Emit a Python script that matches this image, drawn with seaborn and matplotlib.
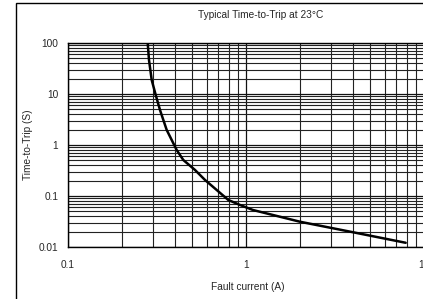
import matplotlib
matplotlib.use("Agg")
import matplotlib.pyplot as plt
import matplotlib.ticker as mticker
import seaborn as sns
import pandas as pd
from matplotlib.patches import Rectangle

current = [0.2804, 0.2851, 0.2953, 0.3110, 0.3287, 0.3585, 0.3825, 0.4079, 0.4444,
           0.5171, 0.5886, 0.6844, 0.7955, 0.9253, 1.095, 2.01, 3.84, 7.89]
trip_time = [100, 46.4, 18.8, 9.56, 4.86, 1.97, 1.253, 0.798, 0.508,
             0.3236, 0.206, 0.1312, 0.0835, 0.0667, 0.0531, 0.0313, 0.020, 0.0121]
x_ticks = [0.1, 1, 10]
x_tick_labels = ["0.1", "1", "10"]
y_ticks = [0.01, 0.1, 1, 10, 100]
y_tick_labels = ["0.01", "0.1", "1", "10", "100"]

sns.set_style("white")
plt.rcParams['font.family'] = ['Liberation Sans', 'DejaVu Sans']

W, H = 423, 299
FS = 7.3
fig = plt.figure(figsize=(W / 100, H / 100), dpi=100)
ax = fig.add_axes([68 / W, 1 - 247 / H, (424 - 68) / W, (247 - 43) / H])

df = pd.DataFrame({"current": current, "time": trip_time})
sns.lineplot(data=df, x="current", y="time", ax=ax, color="black", linewidth=1.8,
             sort=False, zorder=5)

ax.set_xscale("log")
ax.set_yscale("log")
ax.set_xlim(0.1, 10)
ax.set_ylim(0.01, 100)
ax.set_xticks(x_ticks)
ax.set_xticklabels(x_tick_labels)
ax.set_yticks(y_ticks)
ax.set_yticklabels(y_tick_labels)
ax.xaxis.set_minor_locator(mticker.LogLocator(base=10, subs=range(2, 10)))
ax.yaxis.set_minor_locator(mticker.LogLocator(base=10, subs=range(2, 10)))
ax.xaxis.set_minor_formatter(mticker.NullFormatter())
ax.yaxis.set_minor_formatter(mticker.NullFormatter())
ax.tick_params(which="both", length=0)
ax.tick_params(axis="x", pad=9, labelsize=FS)
ax.tick_params(axis="y", pad=7, labelsize=FS)
ax.grid(True, which="major", color="#111111", linewidth=0.9)
ax.grid(True, which="minor", color="#222222", linewidth=0.8)
for s in ax.spines.values():
    s.set_color("black")
    s.set_linewidth(1.0)
ax.set_xlabel("")
ax.set_ylabel("")

fig.text(248 / W, 1 - 287 / H, "Fault current (A)", ha="center", va="center", fontsize=FS)
fig.text(28 / W, 1 - 145 / H, "Time-to-Trip (S)", ha="center", va="center", rotation=90, fontsize=FS)
fig.text(261 / W, 1 - 15 / H, "Typical Time-to-Trip at 23°C", ha="center", va="center", fontsize=FS)

fig.patches.append(Rectangle((16 / W, -0.5), 2, 1 - 3.5 / H + 0.5, transform=fig.transFigure,
                             fill=False, edgecolor="black", linewidth=1.0))

fig.savefig("out.png", dpi=100)
